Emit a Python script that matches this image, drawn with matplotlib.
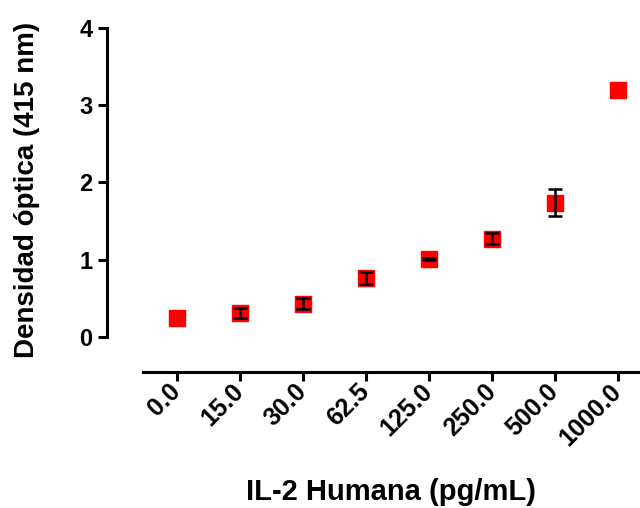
import numpy as np
import matplotlib
matplotlib.use("Agg")
import matplotlib.pyplot as plt

plt.rcParams['font.family'] = ['Liberation Sans', 'DejaVu Sans']
plt.rcParams['font.weight'] = 'bold'

# concentraciones de IL-2 y densidad optica
conc_labels = ['0.0', '15.0', '30.0', '62.5', '125.0', '250.0', '500.0', '1000.0']
od_mean = [0.24, 0.31, 0.43, 0.76, 1.01, 1.27, 1.74, 3.20]
od_err = [0.0, 0.07, 0.07, 0.08, 0.01, 0.07, 0.17, 0.0]

fig = plt.figure(figsize=(6.4, 5.08), dpi=100)
ax = fig.add_axes([0.2234, 0.3366, 0.7766, 0.6083])

x = np.arange(len(conc_labels))
mean = np.array(od_mean)
err = np.array(od_err)
ax.plot(x, mean, 's', color='#ff0000', markersize=11.5, zorder=3, clip_on=False)
# solo los puntos con error
m = err > 0
ax.errorbar(x[m], mean[m], yerr=err[m], fmt='none', ecolor='black', elinewidth=1.8,
            capsize=5, capthick=1.8, zorder=4, clip_on=False)

ax.set_xlim(-0.54, 7.35)
ax.set_ylim(0, 4)
ax.set_yticks([0, 1, 2, 3, 4])

for s in ['top', 'right']:
    ax.spines[s].set_visible(False)
ax.spines['left'].set_position(('outward', 26))
ax.spines['bottom'].set_position(('outward', 25))
ax.spines['left'].set_linewidth(2.2)
ax.spines['bottom'].set_linewidth(2.2)
ax.tick_params(axis='both', width=2.2, length=6.5)
ax.tick_params(axis='x', pad=5, labelsize=18)
ax.tick_params(axis='y', pad=4, labelsize=17)

ax.set_xticks(x)
ax.set_xticklabels(conc_labels)
for lab in ax.get_xticklabels():
    lab.set_rotation(45)
    lab.set_ha('right')
    lab.set_va('center')
    lab.set_rotation_mode('anchor')

ax.set_ylabel('Densidad óptica (415 nm)', fontsize=20, fontweight='bold')
ax.yaxis.set_label_coords(-0.207, 0.476)
ax.set_xlabel('IL-2 Humana (pg/mL)', fontsize=21, fontweight='bold', labelpad=20)

fig.savefig('out.png', dpi=100)
